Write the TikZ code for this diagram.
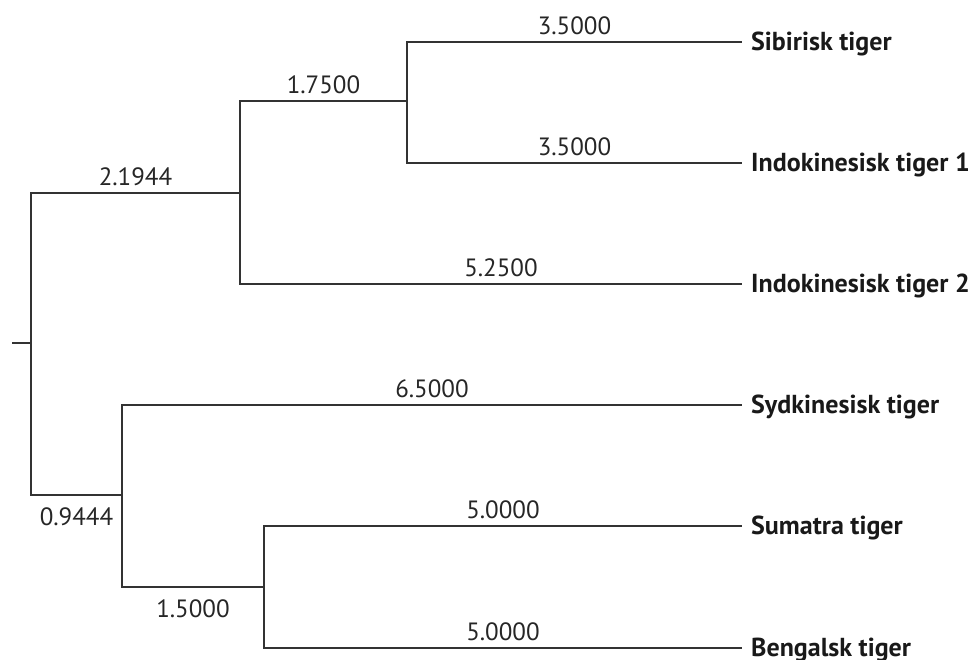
\documentclass[tikz,border=0pt]{standalone}
\usepackage{fontspec}
\setmainfont{PT Sans}
\usetikzlibrary{positioning}

\tikzset{
  branch/.style={line width=1.3pt, draw=black!80},
  len/.style={font=\fontsize{25}{29}\selectfont, text=black!85, inner sep=0pt},
  taxon/.style={font=\bfseries\fontsize{26}{30}\selectfont, text=black!90, anchor=base west, inner sep=0pt}
}

\begin{document}
\begin{tikzpicture}[x=1pt, y=-1pt]
    \useasboundingbox (0,0) rectangle (975,659);

    % Junctions
    \coordinate (stub) at (12,343);
    \coordinate (root) at (31,343);
    \coordinate (upper) at (240,193);
    \coordinate (sibind) at (407,101);
    \coordinate (lower) at (122,495);
    \coordinate (sumben) at (264,587);

    % Leaf ends
    \coordinate (sib) at (742,42);
    \coordinate (indA) at (742,163);
    \coordinate (indB) at (742,284);
    \coordinate (syd) at (742,405);
    \coordinate (sum) at (742,526);
    \coordinate (ben) at (742,648);

    % Leaf names
    \node[taxon] (sibname) at ([xshift=9pt, yshift=-8pt]sib) {Sibirisk tiger};
    \node[taxon] (indAname) at ([xshift=9pt, yshift=-8pt]indA) {Indokinesisk tiger 1};
    \node[taxon] (indBname) at ([xshift=9pt, yshift=-8pt]indB) {Indokinesisk tiger 2};
    \node[taxon] (sydname) at ([xshift=9pt, yshift=-8pt]syd) {Sydkinesisk tiger};
    \node[taxon] (sumname) at ([xshift=9pt, yshift=-8pt]sum) {Sumatra tiger};
    \node[taxon] (benname) at ([xshift=9pt, yshift=-8pt]ben) {Bengalsk tiger};

    % Root
    \draw[branch] (stub) -- (root);
    \draw[branch] (root) |- node[len, pos=0.75, above=7pt] {2.1944} (upper);
    \draw[branch] (root) |- node[len, pos=0.75, below=12pt] {0.9444} (lower);

    % Upper clade
    \draw[branch] (upper) |- node[len, pos=0.75, above=7pt] {1.7500} (sibind);
    \draw[branch] (upper) |- node[len, pos=0.75, above=7pt, xshift=10pt] {5.2500} (indB);
    \draw[branch] (sibind) |- node[len, pos=0.75, above=7pt] {3.5000} (sib);
    \draw[branch] (sibind) |- node[len, pos=0.75, above=7pt] {3.5000} (indA);

    % Lower clade
    \draw[branch] (lower) |- node[len, pos=0.75, above=7pt] {6.5000} (syd);
    \draw[branch] (lower) |- node[len, pos=0.75, below=12pt] {1.5000} (sumben);
    \draw[branch] (sumben) |- node[len, pos=0.75, above=7pt] {5.0000} (sum);
    \draw[branch] (sumben) |- node[len, pos=0.75, above=7pt] {5.0000} (ben);

\end{tikzpicture}
\end{document}
